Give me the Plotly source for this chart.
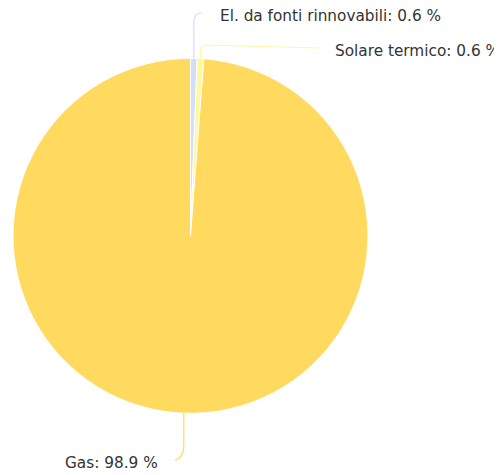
import math
import plotly.graph_objects as go

# ---- data ----
labels = ["El. da fonti rinnovabili", "Solare termico", "Gas"]
values = [0.6, 0.6, 98.9]
colors = ["#D3DEF9", "#FFF8A0", "#FFDA5F"]

# ---- layout constants (pixels, in window coordinates) ----
OFF = 8                      # page body margin
W, H = 502 - OFF, 475 - OFF  # figure size
CX, CY, R = 190.5, 235.8, 177.5
FONT = dict(family="DejaVu Sans", size=15.3, color="#333333")

def px(x):
    return (x - OFF) / W

def py(y):
    return 1 - (y - OFF) / H

fig = go.Figure(go.Pie(
    labels=labels,
    values=values,
    marker=dict(colors=colors, line=dict(color="#FFFFFF", width=1)),
    sort=False,
    direction="clockwise",
    rotation=0,
    textinfo="none",
    hoverinfo="label+percent",
    showlegend=False,
    domain=dict(x=[px(CX - R), px(CX + R)], y=[py(CY + R), py(CY - R)]),
))

# slice mid-angles from the data
total = sum(values)
mids = []
acc = 0.0
for v in values:
    mids.append((acc + v / 2) / total * 2 * math.pi)
    acc += v

def edge(a):
    return CX + R * math.sin(a), CY - R * math.cos(a)

shapes = []
annotations = []

# label placements (pixels): (text-x, text-y, anchor)
placements = [
    (218, 16, "left"),
    (333, 51, "left"),
    (160, 463, "right"),
]

for i, (lab, v, a) in enumerate(zip(labels, values, mids)):
    ex, ey = edge(a)
    tx, ty, anc = placements[i]
    if i == 0:
        path = (f"M {px(ex)} {py(ey)} L {px(ex)} {py(22)} "
                f"Q {px(ex)} {py(13)} {px(ex + 8)} {py(12.5)}")
    elif i == 1:
        path = (f"M {px(ex)} {py(ey)} L {px(ex)} {py(50)} "
                f"Q {px(ex)} {py(45)} {px(ex + 5)} {py(45)} L {px(318)} {py(48)}")
    else:
        path = (f"M {px(ex)} {py(ey)} L {px(ex)} {py(445)} "
                f"Q {px(ex)} {py(458)} {px(ex - 9)} {py(460)}")
    shapes.append(dict(type="path", xref="paper", yref="paper", path=path,
                       line=dict(color=colors[i], width=1.2)))
    annotations.append(dict(
        xref="paper", yref="paper", x=px(tx), y=py(ty),
        xanchor=anc, yanchor="middle", showarrow=False,
        text=f"{lab}: {v:.1f} %", font=FONT,
    ))

fig.update_layout(
    width=W, height=H,
    margin=dict(l=0, r=0, t=0, b=0),
    paper_bgcolor="#FFFFFF",
    plot_bgcolor="#FFFFFF",
    shapes=shapes,
    annotations=annotations,
)

fig.write_html("out.html")
